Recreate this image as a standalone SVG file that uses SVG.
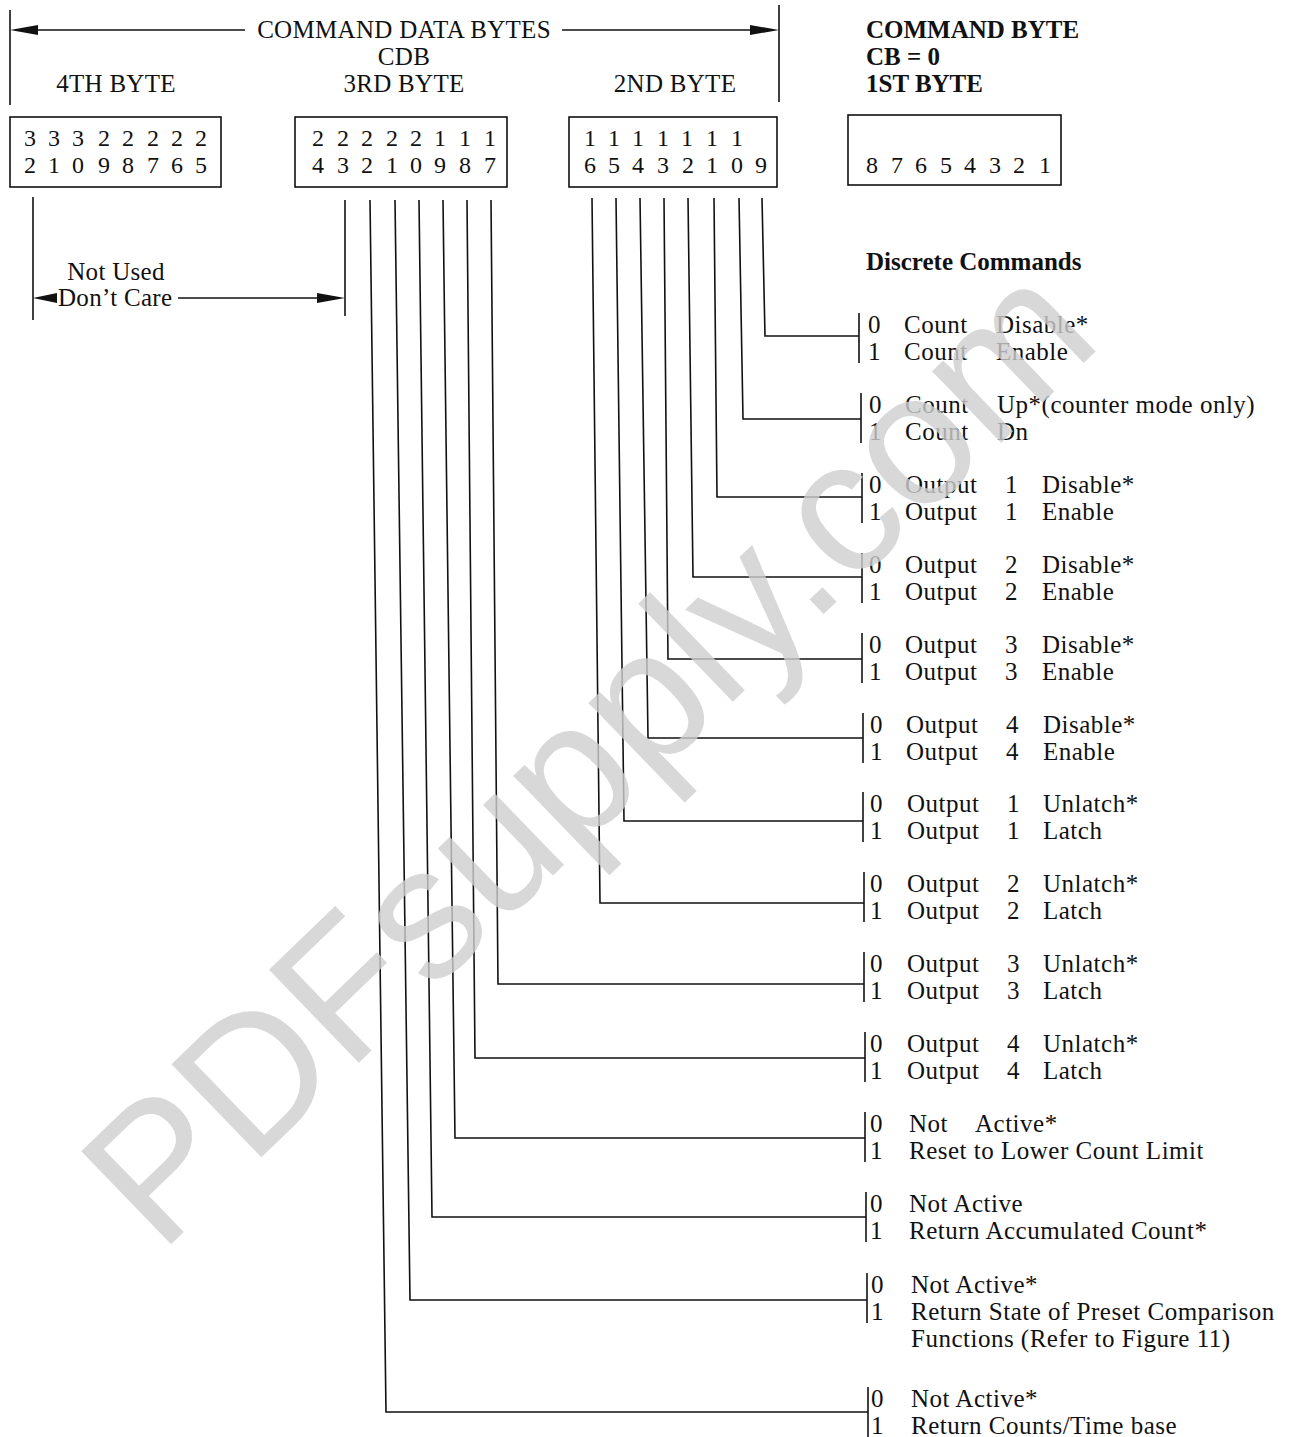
<svg xmlns="http://www.w3.org/2000/svg" width="1294" height="1437" viewBox="0 0 1294 1437">
<style>
.t{font-family:"Liberation Serif","Times New Roman",serif;font-size:25px;fill:#111;letter-spacing:0.5px}
.h{font-family:"Liberation Serif","Times New Roman",serif;font-size:25px;fill:#111;letter-spacing:0.3px}
.b{font-family:"Liberation Serif","Times New Roman",serif;font-size:25px;font-weight:bold;fill:#111}
.d{font-family:"Liberation Serif","Times New Roman",serif;font-size:24px;fill:#111;text-anchor:middle}
.ln{stroke:#111;stroke-width:1.6;fill:none}
.box{stroke:#111;stroke-width:1.6;fill:none}
.ah{fill:#111}
.wm{font-family:"Liberation Sans",Arial,sans-serif;font-size:188px;fill:#cfcfcf;opacity:0.8}
</style>
<rect width="1294" height="1437" fill="#fff"/>

<g id="header">
  <line class="ln" x1="10" y1="10" x2="10" y2="105"/>
  <line class="ln" x1="779" y1="5" x2="779" y2="102"/>
  <line class="ln" x1="30" y1="30" x2="245" y2="30"/>
  <line class="ln" x1="562" y1="30" x2="755" y2="30"/>
  <polygon class="ah" points="10,30 38,25 38,35"/>
  <polygon class="ah" points="779,30 750,25 750,35"/>
  <text class="h" x="404" y="38" text-anchor="middle">COMMAND DATA BYTES</text>
  <text class="h" x="404" y="65" text-anchor="middle">CDB</text>
  <text class="h" x="116" y="92" text-anchor="middle">4TH BYTE</text>
  <text class="h" x="404" y="92" text-anchor="middle">3RD BYTE</text>
  <text class="h" x="675" y="92" text-anchor="middle">2ND BYTE</text>
  <text class="b" x="866" y="38">COMMAND BYTE</text>
  <text class="b" x="866" y="65">CB = 0</text>
  <text class="b" x="866" y="92">1ST BYTE</text>
</g>

<g id="byte4">
  <rect class="box" x="10" y="117" width="211" height="70"/>
  <text class="d" x="30 54 78 104 128 153 177 201" y="146">33322222</text>
  <text class="d" x="30 54 78 104 128 153 177 201" y="173">21098765</text>
</g>
<g id="byte3">
  <rect class="box" x="295" y="117" width="212" height="70"/>
  <text class="d" x="318 343 367 392 416 440 465 490" y="146">22222111</text>
  <text class="d" x="318 343 367 392 416 440 465 490" y="173">43210987</text>
</g>
<g id="byte2">
  <rect class="box" x="569" y="117" width="208" height="70"/>
  <text class="d" x="590 614 638 663 687 712 737" y="146">1111111</text>
  <text class="d" x="590 614 638 663 688 712 737 761" y="173">65432109</text>
</g>
<g id="byte1">
  <rect class="box" x="848" y="115" width="213" height="70"/>
  <text class="d" x="872 897 921 946 970 995 1019 1045" y="173">87654321</text>
</g>

<g id="not-used">
  <line class="ln" x1="33" y1="197" x2="33" y2="320"/>
  <line class="ln" x1="345" y1="200" x2="345" y2="316"/>
  <polygon class="ah" points="33,298 57,293 57,303"/>
  <line class="ln" x1="178" y1="298" x2="322" y2="298"/>
  <polygon class="ah" points="345,298 317,293 317,303"/>
  <text class="h" x="116" y="280" text-anchor="middle">Not Used</text>
  <text class="h" x="58" y="306">Don’t Care</text>
</g>

<g id="title">
  <text class="b" x="866" y="270">Discrete Commands</text>
</g>

<g id="connectors">
  <polyline class="ln" points="762,198 765,336 859,336"/>
  <polyline class="ln" points="739,198 743,419 861,419"/>
  <polyline class="ln" points="714,198 717,497 862,497"/>
  <polyline class="ln" points="688,198 693,577 862,577"/>
  <polyline class="ln" points="664,198 668,659 862,659"/>
  <polyline class="ln" points="640,198 648,738 863,738"/>
  <polyline class="ln" points="616,198 624,821 863,821"/>
  <polyline class="ln" points="592,198 600,903 864,903"/>
  <polyline class="ln" points="491,200 498,984 864,984"/>
  <polyline class="ln" points="467,200 475,1058 865,1058"/>
  <polyline class="ln" points="443,200 455,1138 865,1138"/>
  <polyline class="ln" points="419,200 432,1217 866,1217"/>
  <polyline class="ln" points="395,200 410,1300 867,1300"/>
  <polyline class="ln" points="370,200 386,1412 868,1412"/>
</g>

<g id="g1">
  <line class="ln" x1="859" y1="313" x2="859" y2="363"/>
  <text class="t" y="333"><tspan x="868">0</tspan><tspan x="904">Count</tspan><tspan x="996">Disable*</tspan></text>
  <text class="t" y="360"><tspan x="868">1</tspan><tspan x="904">Count</tspan><tspan x="996">Enable</tspan></text>
</g>
<g id="g2">
  <line class="ln" x1="861" y1="393" x2="861" y2="443"/>
  <text class="t" y="413"><tspan x="869">0</tspan><tspan x="905">Count</tspan><tspan x="997">Up*(counter mode only)</tspan></text>
  <text class="t" y="440"><tspan x="869">1</tspan><tspan x="905">Count</tspan><tspan x="997">Dn</tspan></text>
</g>
<g id="g3">
  <line class="ln" x1="862" y1="473" x2="862" y2="523"/>
  <text class="t" y="493"><tspan x="869">0</tspan><tspan x="905">Output</tspan><tspan x="1005">1</tspan><tspan x="1042">Disable*</tspan></text>
  <text class="t" y="520"><tspan x="869">1</tspan><tspan x="905">Output</tspan><tspan x="1005">1</tspan><tspan x="1042">Enable</tspan></text>
</g>
<g id="g4">
  <line class="ln" x1="862" y1="553" x2="862" y2="603"/>
  <text class="t" y="573"><tspan x="869">0</tspan><tspan x="905">Output</tspan><tspan x="1005">2</tspan><tspan x="1042">Disable*</tspan></text>
  <text class="t" y="600"><tspan x="869">1</tspan><tspan x="905">Output</tspan><tspan x="1005">2</tspan><tspan x="1042">Enable</tspan></text>
</g>
<g id="g5">
  <line class="ln" x1="862" y1="633" x2="862" y2="683"/>
  <text class="t" y="653"><tspan x="869">0</tspan><tspan x="905">Output</tspan><tspan x="1005">3</tspan><tspan x="1042">Disable*</tspan></text>
  <text class="t" y="680"><tspan x="869">1</tspan><tspan x="905">Output</tspan><tspan x="1005">3</tspan><tspan x="1042">Enable</tspan></text>
</g>
<g id="g6">
  <line class="ln" x1="863" y1="713" x2="863" y2="763"/>
  <text class="t" y="733"><tspan x="870">0</tspan><tspan x="906">Output</tspan><tspan x="1006">4</tspan><tspan x="1043">Disable*</tspan></text>
  <text class="t" y="760"><tspan x="870">1</tspan><tspan x="906">Output</tspan><tspan x="1006">4</tspan><tspan x="1043">Enable</tspan></text>
</g>
<g id="g7">
  <line class="ln" x1="863" y1="792" x2="863" y2="842"/>
  <text class="t" y="812"><tspan x="870">0</tspan><tspan x="907">Output</tspan><tspan x="1007">1</tspan><tspan x="1043">Unlatch*</tspan></text>
  <text class="t" y="839"><tspan x="870">1</tspan><tspan x="907">Output</tspan><tspan x="1007">1</tspan><tspan x="1043">Latch</tspan></text>
</g>
<g id="g8">
  <line class="ln" x1="864" y1="872" x2="864" y2="922"/>
  <text class="t" y="892"><tspan x="870">0</tspan><tspan x="907">Output</tspan><tspan x="1007">2</tspan><tspan x="1043">Unlatch*</tspan></text>
  <text class="t" y="919"><tspan x="870">1</tspan><tspan x="907">Output</tspan><tspan x="1007">2</tspan><tspan x="1043">Latch</tspan></text>
</g>
<g id="g9">
  <line class="ln" x1="864" y1="952" x2="864" y2="1002"/>
  <text class="t" y="972"><tspan x="870">0</tspan><tspan x="907">Output</tspan><tspan x="1007">3</tspan><tspan x="1043">Unlatch*</tspan></text>
  <text class="t" y="999"><tspan x="870">1</tspan><tspan x="907">Output</tspan><tspan x="1007">3</tspan><tspan x="1043">Latch</tspan></text>
</g>
<g id="g10">
  <line class="ln" x1="865" y1="1032" x2="865" y2="1082"/>
  <text class="t" y="1052"><tspan x="870">0</tspan><tspan x="907">Output</tspan><tspan x="1007">4</tspan><tspan x="1043">Unlatch*</tspan></text>
  <text class="t" y="1079"><tspan x="870">1</tspan><tspan x="907">Output</tspan><tspan x="1007">4</tspan><tspan x="1043">Latch</tspan></text>
</g>
<g id="g11">
  <line class="ln" x1="865" y1="1112" x2="865" y2="1162"/>
  <text class="t" y="1132"><tspan x="870">0</tspan><tspan x="909">Not</tspan><tspan x="975">Active*</tspan></text>
  <text class="t" y="1159"><tspan x="870">1</tspan><tspan x="909">Reset to Lower Count Limit</tspan></text>
</g>
<g id="g12">
  <line class="ln" x1="866" y1="1192" x2="866" y2="1242"/>
  <text class="t" y="1212"><tspan x="870">0</tspan><tspan x="909">Not Active</tspan></text>
  <text class="t" y="1239"><tspan x="870">1</tspan><tspan x="909">Return Accumulated Count*</tspan></text>
</g>
<g id="g13">
  <line class="ln" x1="867" y1="1273" x2="867" y2="1323"/>
  <text class="t" y="1293"><tspan x="871">0</tspan><tspan x="911">Not Active*</tspan></text>
  <text class="t" y="1320"><tspan x="871">1</tspan><tspan x="911">Return State of Preset Comparison</tspan></text>
  <text class="t" x="911" y="1347">Functions (Refer to Figure 11)</text>
</g>
<g id="g14">
  <line class="ln" x1="868" y1="1387" x2="868" y2="1437"/>
  <text class="t" y="1407"><tspan x="871">0</tspan><tspan x="911">Not Active*</tspan></text>
  <text class="t" y="1434"><tspan x="871">1</tspan><tspan x="911">Return Counts/Time base</tspan></text>
</g>

<g id="watermark">
  <text class="wm" x="160" y="1255" transform="rotate(-44 160 1255)">PDFsupply.com</text>
</g>
</svg>
